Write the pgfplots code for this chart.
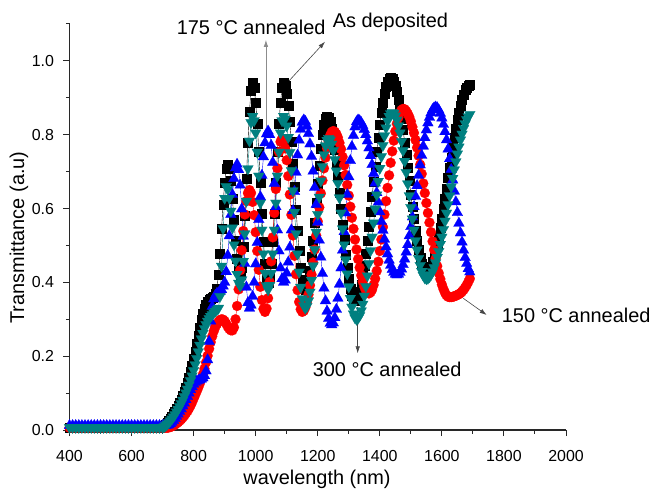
\documentclass[border=0pt]{standalone}
\usepackage{fontspec}
\setmainfont{Liberation Sans}
\usepackage{pgfplots}
\usepackage{pgfplotstable}
\pgfplotsset{compat=1.18}
\usetikzlibrary{arrows.meta}

\definecolor{tealline}{RGB}{0,128,128}
\definecolor{axisgray}{RGB}{40,40,40}
\definecolor{arrowdark}{RGB}{70,70,70}
\definecolor{arrowlight}{RGB}{140,140,140}

% Transmittance spectra: as deposited, 150, 175 and 300 degC annealed
\pgfplotstableread{
lambda dep a150 a175 a300
400 0.006 0.006 0.012 0.007
410 0.006 0.006 0.012 0.007
420 0.006 0.006 0.012 0.007
430 0.006 0.006 0.012 0.007
440 0.006 0.006 0.012 0.007
450 0.006 0.006 0.012 0.007
460 0.006 0.006 0.012 0.007
470 0.006 0.006 0.012 0.007
480 0.006 0.006 0.012 0.007
490 0.006 0.006 0.012 0.007
500 0.006 0.006 0.012 0.007
510 0.006 0.006 0.012 0.007
520 0.006 0.006 0.012 0.007
530 0.006 0.006 0.012 0.007
540 0.006 0.006 0.012 0.007
550 0.006 0.006 0.012 0.007
560 0.006 0.006 0.012 0.007
570 0.006 0.006 0.012 0.007
580 0.006 0.006 0.012 0.007
590 0.006 0.006 0.012 0.007
600 0.006 0.006 0.012 0.007
610 0.006 0.006 0.012 0.007
620 0.006 0.006 0.012 0.007
630 0.006 0.006 0.012 0.007
640 0.006 0.006 0.012 0.007
650 0.006 0.006 0.012 0.007
660 0.006 0.006 0.012 0.007
670 0.006 0.006 0.012 0.007
680 0.006 0.006 0.012 0.007
690 0.006 0.006 0.012 0.007
700 0.008 0.006 0.012 0.007
705 0.011 0.006 0.012 0.009
710 0.015 0.006 0.012 0.012
715 0.020 0.006 0.013 0.016
720 0.025 0.007 0.014 0.020
725 0.031 0.008 0.017 0.025
730 0.037 0.010 0.021 0.030
735 0.044 0.012 0.026 0.036
740 0.051 0.015 0.031 0.042
745 0.058 0.018 0.037 0.049
750 0.066 0.021 0.043 0.056
755 0.074 0.025 0.050 0.064
760 0.083 0.029 0.057 0.072
765 0.093 0.034 0.065 0.081
770 0.104 0.039 0.073 0.091
775 0.116 0.045 0.082 0.101
780 0.129 0.051 0.091 0.111
785 0.143 0.058 0.100 0.122
790 0.158 0.066 0.109 0.134
795 0.175 0.075 0.117 0.147
800 0.193 0.085 0.124 0.161
805 0.213 0.095 0.129 0.177
810 0.234 0.105 0.132 0.194
815 0.256 0.115 0.134 0.212
820 0.278 0.126 0.136 0.230
825 0.298 0.138 0.138 0.247
830 0.316 0.151 0.141 0.262
835 0.330 0.166 0.147 0.275
840 0.341 0.183 0.160 0.286
845 0.348 0.201 0.190 0.295
850 0.352 0.220 0.240 0.302
855 0.355 0.238 0.295 0.308
860 0.358 0.254 0.335 0.313
865 0.362 0.268 0.355 0.318
870 0.370 0.279 0.365 0.322
875 0.383 0.287 0.370 0.326
880 0.421 0.293 0.372 0.330
885 0.478 0.298 0.375 0.362
890 0.545 0.300 0.380 0.444
895 0.612 0.299 0.390 0.546
900 0.669 0.295 0.400 0.628
905 0.707 0.288 0.429 0.660
910 0.720 0.280 0.473 0.652
915 0.709 0.274 0.526 0.628
920 0.676 0.270 0.584 0.593
925 0.627 0.270 0.638 0.548
930 0.570 0.278 0.681 0.502
935 0.513 0.300 0.710 0.458
940 0.464 0.336 0.720 0.422
945 0.431 0.381 0.705 0.398
950 0.420 0.433 0.663 0.390
955 0.440 0.487 0.599 0.407
960 0.496 0.539 0.525 0.457
965 0.581 0.584 0.451 0.532
970 0.680 0.620 0.387 0.620
975 0.779 0.642 0.345 0.708
980 0.864 0.650 0.330 0.783
985 0.920 0.642 0.338 0.833
990 0.940 0.618 0.362 0.850
995 0.927 0.582 0.400 0.838
1000 0.888 0.536 0.450 0.805
1005 0.829 0.485 0.508 0.753
1010 0.753 0.434 0.570 0.688
1015 0.670 0.388 0.632 0.615
1020 0.587 0.352 0.690 0.542
1025 0.511 0.328 0.740 0.477
1030 0.452 0.320 0.778 0.425
1035 0.413 0.329 0.802 0.391
1040 0.400 0.357 0.810 0.380
1045 0.413 0.401 0.800 0.392
1050 0.452 0.457 0.771 0.425
1055 0.511 0.522 0.725 0.477
1060 0.587 0.588 0.668 0.542
1065 0.670 0.653 0.605 0.615
1070 0.753 0.709 0.542 0.688
1075 0.829 0.753 0.485 0.753
1080 0.888 0.781 0.439 0.805
1085 0.927 0.790 0.410 0.838
1090 0.940 0.783 0.400 0.850
1095 0.933 0.763 0.406 0.843
1100 0.912 0.731 0.425 0.824
1105 0.879 0.688 0.455 0.793
1110 0.835 0.638 0.495 0.752
1115 0.781 0.583 0.542 0.703
1120 0.722 0.527 0.594 0.648
1125 0.660 0.472 0.646 0.590
1130 0.598 0.422 0.698 0.532
1135 0.539 0.379 0.745 0.477
1140 0.485 0.347 0.785 0.428
1145 0.441 0.327 0.815 0.387
1150 0.408 0.320 0.834 0.356
1155 0.387 0.323 0.840 0.337
1160 0.380 0.332 0.836 0.330
1165 0.386 0.347 0.823 0.335
1170 0.403 0.367 0.803 0.350
1175 0.431 0.392 0.775 0.374
1180 0.469 0.421 0.741 0.406
1185 0.513 0.454 0.701 0.445
1190 0.563 0.489 0.657 0.489
1195 0.615 0.527 0.611 0.536
1200 0.667 0.565 0.563 0.584
1205 0.717 0.603 0.514 0.631
1210 0.762 0.641 0.468 0.675
1215 0.799 0.676 0.424 0.714
1220 0.827 0.709 0.384 0.746
1225 0.844 0.738 0.350 0.770
1230 0.850 0.763 0.322 0.785
1235 0.846 0.783 0.302 0.790
1240 0.835 0.798 0.289 0.786
1245 0.817 0.807 0.285 0.775
1250 0.792 0.810 0.290 0.757
1255 0.761 0.808 0.304 0.733
1260 0.725 0.802 0.327 0.702
1265 0.686 0.792 0.357 0.668
1270 0.643 0.778 0.395 0.629
1275 0.600 0.761 0.439 0.588
1280 0.557 0.740 0.487 0.545
1285 0.515 0.717 0.537 0.502
1290 0.475 0.691 0.588 0.461
1295 0.439 0.664 0.638 0.423
1300 0.409 0.635 0.686 0.388
1305 0.384 0.605 0.730 0.357
1310 0.365 0.575 0.768 0.333
1315 0.354 0.545 0.798 0.315
1320 0.350 0.516 0.821 0.304
1325 0.353 0.489 0.835 0.300
1330 0.361 0.463 0.840 0.303
1335 0.375 0.440 0.838 0.310
1340 0.394 0.419 0.833 0.323
1345 0.418 0.402 0.825 0.341
1350 0.446 0.388 0.814 0.363
1355 0.478 0.378 0.800 0.389
1360 0.513 0.372 0.783 0.418
1365 0.551 0.370 0.764 0.451
1370 0.591 0.373 0.743 0.486
1375 0.632 0.380 0.719 0.523
1380 0.673 0.393 0.695 0.561
1385 0.714 0.410 0.669 0.599
1390 0.754 0.431 0.643 0.637
1395 0.792 0.456 0.617 0.674
1400 0.827 0.485 0.591 0.709
1405 0.859 0.516 0.565 0.741
1410 0.887 0.550 0.541 0.771
1415 0.911 0.584 0.517 0.797
1420 0.930 0.620 0.496 0.819
1425 0.944 0.656 0.477 0.837
1430 0.952 0.690 0.460 0.850
1435 0.955 0.724 0.446 0.857
1440 0.953 0.755 0.435 0.860
1445 0.945 0.784 0.427 0.858
1450 0.933 0.809 0.422 0.851
1455 0.917 0.830 0.420 0.840
1460 0.896 0.847 0.422 0.824
1465 0.872 0.860 0.427 0.805
1470 0.844 0.867 0.436 0.782
1475 0.813 0.870 0.448 0.757
1480 0.780 0.869 0.463 0.728
1485 0.746 0.864 0.482 0.698
1490 0.710 0.857 0.502 0.667
1495 0.675 0.848 0.526 0.635
1500 0.639 0.836 0.551 0.603
1505 0.605 0.821 0.577 0.572
1510 0.572 0.805 0.605 0.542
1515 0.541 0.786 0.633 0.513
1520 0.513 0.765 0.662 0.488
1525 0.489 0.743 0.690 0.465
1530 0.468 0.719 0.718 0.446
1535 0.452 0.694 0.744 0.430
1540 0.440 0.668 0.769 0.419
1545 0.433 0.642 0.792 0.412
1550 0.430 0.615 0.813 0.410
1555 0.432 0.588 0.832 0.411
1560 0.436 0.562 0.847 0.415
1565 0.444 0.536 0.859 0.421
1570 0.455 0.511 0.868 0.429
1575 0.469 0.488 0.873 0.440
1580 0.485 0.465 0.875 0.453
1585 0.504 0.444 0.873 0.468
1590 0.525 0.425 0.867 0.484
1595 0.548 0.409 0.858 0.503
1600 0.573 0.394 0.845 0.523
1605 0.599 0.382 0.828 0.543
1610 0.626 0.372 0.808 0.566
1615 0.654 0.365 0.786 0.588
1620 0.683 0.361 0.761 0.611
1625 0.711 0.360 0.735 0.635
1630 0.739 0.360 0.706 0.659
1635 0.766 0.361 0.677 0.682
1640 0.792 0.362 0.647 0.705
1645 0.817 0.364 0.618 0.727
1650 0.840 0.366 0.589 0.748
1655 0.861 0.368 0.560 0.767
1660 0.880 0.371 0.534 0.786
1665 0.896 0.375 0.509 0.802
1670 0.910 0.380 0.487 0.817
1675 0.921 0.386 0.467 0.830
1680 0.929 0.393 0.451 0.841
1685 0.933 0.401 0.437 0.849
1690 0.935 0.410 0.428 0.855
}\spectra

\newcommand{\ticksize}{\fontsize{16}{19}\selectfont}
\newcommand{\labsize}{\fontsize{20}{24}\selectfont}

\begin{document}
\begin{tikzpicture}
\path[use as bounding box] (0,0) rectangle (650bp,490bp);
\begin{axis}[
  at={(69.5bp,60bp)}, anchor=south west,
  scale only axis, width=496.5bp, height=406bp,
  xmin=400, xmax=2000, ymin=0, ymax=1.1,
  clip=false,
  axis x line*=bottom, axis y line*=left,
  axis line style={-, line width=1.1bp, color=axisgray},
  xtick={400,600,800,1000,1200,1400,1600,1800,2000},
  minor xtick={500,700,900,1100,1300,1500,1700,1900},
  ytick={0,0.2,0.4,0.6,0.8,1.0},
  minor ytick={0.1,0.3,0.5,0.7,0.9,1.1},
  tick align=outside,
  major tick length=6bp, minor tick length=3.5bp,
  tick style={line width=1bp, color=axisgray},
  scaled x ticks=false,
  /pgf/number format/assume math mode=true,
  tick label style={font=\ticksize, text=black},
  xticklabel style={/pgf/number format/set thousands separator={}, yshift=-11bp},
  yticklabel style={/pgf/number format/.cd, fixed, fixed zerofill, precision=1,
    /tikz/.cd, xshift=-6bp},
  xlabel={wavelength (nm)},
  ylabel={Transmittance (a.u)},
  label style={font=\labsize},
  xlabel style={at={(axis description cs:0.4985,-0.122)}, anchor=center},
  ylabel style={at={(axis description cs:-0.1017,0.474)}, anchor=center},
]
\addplot[black, line width=0.4bp, mark=square*, mark size=4.5bp,
  mark options={solid, fill=black, draw=black, line width=0.2bp}]
  table[x=lambda, y=dep] {\spectra};
\addplot[red, line width=0.4bp, mark=*, mark size=5bp,
  mark options={solid, fill=red, draw=red, line width=0.2bp}]
  table[x=lambda, y=a150] {\spectra};
\addplot[blue, line width=0.4bp, mark=triangle*, mark size=6.2bp,
  mark options={solid, fill=blue, draw=blue, line width=0.2bp}]
  table[x=lambda, y=a175] {\spectra};
\addplot[tealline, line width=0.4bp, mark=triangle*, mark size=6.2bp,
  mark options={solid, rotate=180, fill=tealline, draw=tealline, line width=0.2bp}]
  table[x=lambda, y=a300] {\spectra};

% annotations
\node[font=\labsize, anchor=base west] at (axis cs:734.5,1.0702) {175 °C annealed};
\draw[arrowlight, line width=0.7bp, -{Latex[length=7bp,width=4.5bp]}]
  (axis cs:1033,0.82) -- (axis cs:1033,1.057);
\node[font=\labsize, anchor=base west] at (axis cs:1237,1.0892) {As deposited};
\draw[arrowdark, line width=0.6bp, -{Latex[length=7bp,width=4.5bp]}]
  (axis cs:1105,0.9437) -- (axis cs:1223.4,1.052);
\node[font=\labsize, anchor=base west] at (axis cs:1781.9,0.290) {150 °C annealed};
\draw[arrowdark, line width=0.6bp, -{Latex[length=7bp,width=4.5bp]}]
  (axis cs:1669,0.3568) -- (axis cs:1744.4,0.3116);
\node[font=\labsize, anchor=base east] at (axis cs:1674.5,0.1463) {300 °C annealed};
\draw[arrowdark, line width=0.6bp, -{Latex[length=7bp,width=4.5bp]}]
  (axis cs:1328.7,0.334) -- (axis cs:1328.7,0.2078);
\end{axis}
\end{tikzpicture}
\end{document}
